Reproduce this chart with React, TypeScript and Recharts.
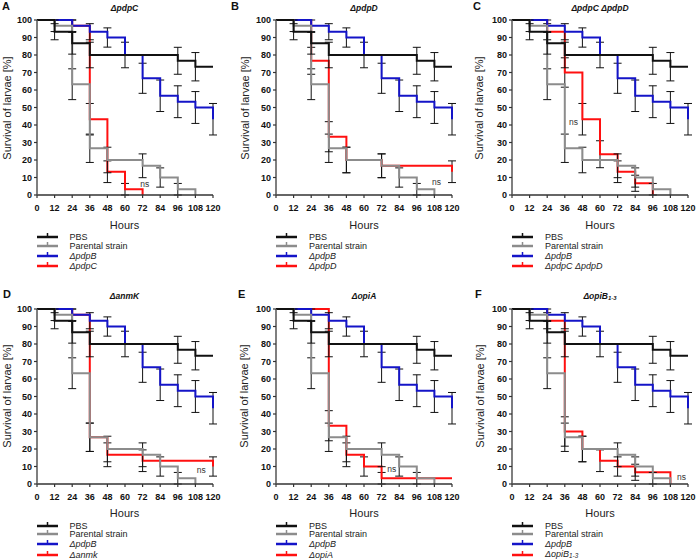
import React from 'react';
import { LineChart, Line, XAxis, YAxis, ErrorBar, ReferenceDot } from 'recharts';

type Pt = { t: number; v: number; e?: number };

const hourTicks = [0, 12, 24, 36, 48, 60, 72, 84, 96, 108, 120];
const survivalTicks = [0, 10, 20, 30, 40, 50, 60, 70, 80, 90, 100];

// Shared controls
const pbs: Pt[] = [
  { t: 0, v: 100 }, { t: 12, v: 93.3, e: 4.6 }, { t: 24, v: 86.7, e: 6.2 }, { t: 36, v: 80, e: 7.3 },
  { t: 96, v: 76.7, e: 7.7 }, { t: 108, v: 73.3, e: 8.1 }, { t: 120, v: 73.3 },
];
const parental: Pt[] = [
  { t: 0, v: 100 }, { t: 12, v: 96.7, e: 3.3 }, { t: 24, v: 63.3, e: 8.8 }, { t: 36, v: 26.7, e: 8.1 },
  { t: 48, v: 20, e: 7.3 }, { t: 72, v: 16.7, e: 6.8 }, { t: 84, v: 10, e: 5.5 }, { t: 96, v: 3.3, e: 3.3 },
  { t: 108, v: 0 },
];
const pdpB: Pt[] = [
  { t: 0, v: 100 }, { t: 24, v: 96.7, e: 3.3 }, { t: 36, v: 93.3, e: 4.6 }, { t: 48, v: 90, e: 5.5 },
  { t: 60, v: 80, e: 7.3 }, { t: 72, v: 66.7, e: 8.6 }, { t: 84, v: 56.7, e: 9.0 }, { t: 96, v: 53.3, e: 9.1 },
  { t: 108, v: 50, e: 9.1 }, { t: 120, v: 43.3, e: 9.0 },
];
// Mutants
const pdpC: Pt[] = [
  { t: 0, v: 100 }, { t: 24, v: 96.7, e: 3.3 }, { t: 36, v: 43.3, e: 9.0 }, { t: 48, v: 13.3, e: 6.2 },
  { t: 60, v: 3.3, e: 3.3 }, { t: 72, v: 0 },
];
const pdpD: Pt[] = [
  { t: 0, v: 100 }, { t: 24, v: 76.7, e: 7.7 }, { t: 36, v: 33.3, e: 8.6 }, { t: 48, v: 20, e: 7.3 },
  { t: 72, v: 16.7, e: 6.8 }, { t: 120, v: 13.3, e: 6.2 },
];
const pdpCD: Pt[] = [
  { t: 0, v: 100 }, { t: 24, v: 93.3, e: 4.6 }, { t: 36, v: 70, e: 8.4 }, { t: 48, v: 43.3, e: 9.0 },
  { t: 60, v: 23.3, e: 7.7 }, { t: 72, v: 13.3, e: 6.2 }, { t: 84, v: 6.7, e: 4.6 }, { t: 96, v: 0 },
];
const anmK: Pt[] = [
  { t: 0, v: 100 }, { t: 24, v: 96.7, e: 3.3 }, { t: 36, v: 26.7, e: 8.1 }, { t: 48, v: 16.7, e: 6.8 },
  { t: 72, v: 13.3, e: 6.2 }, { t: 120, v: 10, e: 5.5 },
];
const opiA: Pt[] = [
  { t: 0, v: 100 }, { t: 36, v: 33.3, e: 8.6 }, { t: 48, v: 16.7, e: 6.8 }, { t: 60, v: 10, e: 5.5 },
  { t: 72, v: 3.3, e: 3.3 }, { t: 120, v: 3.3 },
];
const opiB: Pt[] = [
  { t: 0, v: 100 }, { t: 24, v: 93.3, e: 4.6 }, { t: 36, v: 30, e: 8.4 }, { t: 48, v: 20, e: 7.3 },
  { t: 60, v: 13.3, e: 6.2 }, { t: 72, v: 10, e: 5.5 }, { t: 84, v: 6.7, e: 4.6 }, { t: 108, v: 0 },
];

// "ns" annotation anchor (hours, survival)
const nsA = { t: 73.5, v: 6.3 };
const nsB = { t: 109.5, v: 7.6 };
const nsC = { t: 42, v: 41.5 };
const nsD = { t: 112, v: 8 };
const nsE = { t: 79, v: 8.5 };
const nsF = { t: 115.5, v: 4 };

const COLORS = { pbs: '#111111', parental: '#8c8c8c', pdpB: '#1414c8', mutant: '#ff1010' };
const FONT = "'Liberation Sans', Arial, Helvetica, sans-serif";

const PLOT_W = 176;
const PLOT_H = 175;

type PanelCfg = {
  letter: string;
  title: React.ReactNode;
  legend: React.ReactNode;
  data: Pt[];
  ns: { t: number; v: number };
  plotLeft: number;
  plotTop: number;
  letterX: number;
  yTitleX: number;
};

const sub = (s: string) => (
  <span style={{ fontSize: '0.7em', verticalAlign: '-0.3em' }}>{s}</span>
);

const panels: PanelCfg[] = [
  { letter: 'A', title: <>ΔpdpC</>, legend: <>ΔpdpC</>, data: pdpC, ns: nsA, plotLeft: 36.5, plotTop: 20, letterX: 2, yTitleX: 6.5 },
  { letter: 'B', title: <>ΔpdpD</>, legend: <>ΔpdpD</>, data: pdpD, ns: nsB, plotLeft: 276, plotTop: 20, letterX: 231, yTitleX: 244.5 },
  { letter: 'C', title: <>ΔpdpC ΔpdpD</>, legend: <>ΔpdpC ΔpdpD</>, data: pdpCD, ns: nsC, plotLeft: 512, plotTop: 20, letterX: 473, yTitleX: 479 },
  { letter: 'D', title: <>ΔanmK</>, legend: <>Δanmk</>, data: anmK, ns: nsD, plotLeft: 36.5, plotTop: 308.5, letterX: 3, yTitleX: 6.5 },
  { letter: 'E', title: <>ΔopiA</>, legend: <>ΔopiA</>, data: opiA, ns: nsE, plotLeft: 276, plotTop: 308.5, letterX: 238, yTitleX: 243.5 },
  { letter: 'F', title: <>ΔopiB{sub('1-3')}</>, legend: <>ΔopiB{sub('1-3')}</>, data: opiB, ns: nsF, plotLeft: 512, plotTop: 308.5, letterX: 475, yTitleX: 480 },
];

const CM = { top: 10, right: 10, left: 0, bottom: 0 };
const Y_W = 30;
const X_H = 25;

function Panel({ p }: { p: PanelCfg }) {
  const chartW = Y_W + PLOT_W + CM.right;
  const chartH = CM.top + PLOT_H + X_H;
  const plotBottom = p.plotTop + PLOT_H;
  const cx = p.plotLeft + PLOT_W / 2;
  const tickStyle = { fontSize: 9, fontWeight: 700, fill: '#111', fontFamily: FONT };
  const series = [
    { key: 'mutant', data: p.data, color: COLORS.mutant },
    { key: 'pdpB', data: pdpB, color: COLORS.pdpB },
    { key: 'parental', data: parental, color: COLORS.parental },
    { key: 'pbs', data: pbs, color: COLORS.pbs },
  ];
  const legendItems = [
    { color: COLORS.pbs, label: <>PBS</>, italic: false },
    { color: COLORS.parental, label: <>Parental strain</>, italic: false },
    { color: COLORS.pdpB, label: <>ΔpdpB</>, italic: true },
    { color: COLORS.mutant, label: p.legend, italic: true },
  ];
  const legendOffsets = [42.2, 50.7, 60.8, 71.4];
  return (
    <>
      <div style={{ position: 'absolute', left: p.letterX, top: p.plotTop - 20.5, fontSize: 11, fontWeight: 700, lineHeight: '12px', fontFamily: FONT, color: '#111' }}>
        {p.letter}
      </div>
      <div style={{ position: 'absolute', left: cx, top: p.plotTop - 12.5, transform: 'translate(-50%,-50%)', fontSize: 8.5, fontWeight: 700, fontStyle: 'italic', fontFamily: FONT, whiteSpace: 'nowrap', color: '#111' }}>
        {p.title}
      </div>
      <div style={{ position: 'absolute', left: p.yTitleX, top: p.plotTop + PLOT_H / 2, transform: 'translate(-50%,-50%) rotate(-90deg)', fontSize: 11, fontFamily: FONT, whiteSpace: 'nowrap', color: '#222' }}>
        Survival of larvae [%]
      </div>
      <div style={{ position: 'absolute', left: cx, top: plotBottom + 29.5, transform: 'translate(-50%,-50%)', fontSize: 11, fontFamily: FONT, whiteSpace: 'nowrap', color: '#222' }}>
        Hours
      </div>
      <div style={{ position: 'absolute', left: p.plotLeft - Y_W, top: p.plotTop - CM.top }}>
        <LineChart width={chartW} height={chartH} margin={CM}>
          <XAxis
            type="number"
            dataKey="t"
            domain={[0, 120]}
            ticks={hourTicks}
            interval={0}
            height={X_H}
            tickSize={3}
            tickMargin={7}
            tick={tickStyle}
            axisLine={{ stroke: '#333', strokeWidth: 1.5 }}
            tickLine={{ stroke: '#333', strokeWidth: 1.2 }}
          />
          <YAxis
            type="number"
            domain={[0, 100]}
            ticks={survivalTicks}
            interval={0}
            width={Y_W}
            tickSize={3}
            tickMargin={2}
            tick={tickStyle}
            axisLine={{ stroke: '#555', strokeWidth: 1.5 }}
            tickLine={{ stroke: '#333', strokeWidth: 1.2 }}
          />
          {series.map((s) => (
            <Line
              key={s.key}
              data={s.data}
              dataKey="v"
              type="stepAfter"
              stroke={s.color}
              strokeWidth={2}
              dot={false}
              activeDot={false}
              isAnimationActive={false}
            >
              <ErrorBar dataKey="e" direction="y" width={4} stroke="#111" strokeWidth={1} />
            </Line>
          ))}
          <ReferenceDot
            x={p.ns.t}
            y={p.ns.v}
            r={1}
            fill="none"
            stroke="none"
            label={{ value: 'ns', position: 'center', fontSize: 8.5, fill: '#333', fontFamily: FONT }}
          />
        </LineChart>
      </div>
      {legendItems.map((it, i) => {
        const y = plotBottom + legendOffsets[i];
        return (
          <React.Fragment key={i}>
            <svg style={{ position: 'absolute', left: p.plotLeft, top: y - 5 }} width={22} height={8}>
              <line x1={0} y1={5} x2={21} y2={5} stroke={it.color} strokeWidth={2.5} />
              <line x1={10.5} y1={1} x2={10.5} y2={6} stroke={it.color} strokeWidth={1.5} />
            </svg>
            <div style={{ position: 'absolute', left: p.plotLeft + 33, top: y, transform: 'translateY(-50%)', fontSize: 9, fontStyle: it.italic ? 'italic' : 'normal', fontFamily: FONT, whiteSpace: 'nowrap', color: '#222', lineHeight: '10px' }}>
              {it.label}
            </div>
          </React.Fragment>
        );
      })}
    </>
  );
}

export default function App() {
  return (
    <div style={{ position: 'absolute', left: 0, top: 0, width: 696, height: 560, background: '#fff', overflow: 'hidden', fontFamily: FONT }}>
      {panels.map((p) => (
        <Panel key={p.letter} p={p} />
      ))}
    </div>
  );
}
